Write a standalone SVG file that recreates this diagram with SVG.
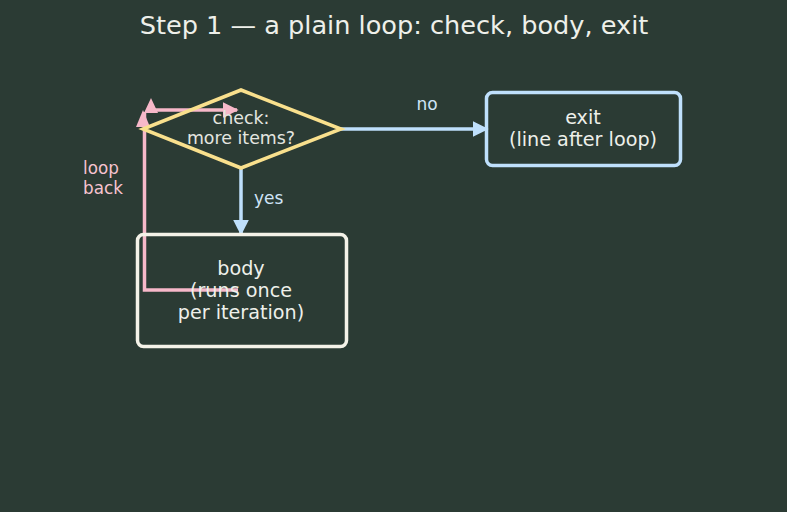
<svg xmlns="http://www.w3.org/2000/svg" width="787" height="512" viewBox="0 0 787 512">
<style>
text{font-family:"DejaVu Sans","Liberation Sans",sans-serif;}
.title{font-size:25.6px;fill:#eef0ea;text-anchor:middle;}
.lbl{font-size:19.2px;fill:#eef0ea;text-anchor:middle;}
.dlbl{font-size:17.4px;fill:#e4e6e0;text-anchor:middle;}
.elbl{font-size:17px;fill:#cfe4f7;}
.plbl{font-size:16.8px;fill:#f7c3d0;}
.blue{stroke:#bfe0fc;stroke-width:3.5;fill:none;}
.pink{stroke:#f7b8c9;stroke-width:3.5;fill:none;}
</style>
<defs>
<marker id="ab" viewBox="0 0 10 10" refX="9" refY="5" markerWidth="4.6" markerHeight="4.6" orient="auto" markerUnits="strokeWidth"><path d="M0,0 L10,5 L0,10 z" fill="#bfe0fc"/></marker>
<marker id="ap" viewBox="0 0 10 10" refX="9" refY="5" markerWidth="4.6" markerHeight="4.6" orient="auto" markerUnits="strokeWidth"><path d="M0,0 L10,5 L0,10 z" fill="#f7b8c9"/></marker>
</defs>
<rect width="787" height="512" fill="#2b3b34"/>
<text class="title" x="394" y="34">Step 1 — a plain loop: check, body, exit</text>
<g id="connectors">
<line class="blue" x1="341" y1="129" x2="487" y2="129" marker-end="url(#ab)"/>
<text class="elbl" x="427" y="110" text-anchor="middle">no</text>
<line class="blue" x1="241" y1="168" x2="241" y2="234" marker-end="url(#ab)"/>
<text class="elbl" x="254" y="204">yes</text>
<path class="pink" d="M238,290 L144.5,290 L144.5,112"/>
<path d="M136,127 L143,110 L150,127 z" fill="#f7b8c9"/>
<path class="pink" d="M151,111 L151,104"/>
<path d="M144,113 L151,98 L158,113 z" fill="#f7b8c9"/>
<path class="pink" d="M150,110 L237,110" marker-end="url(#ap)"/>
<text class="plbl" x="83" y="174">loop</text>
<text class="plbl" x="83" y="194">back</text>
</g>
<g id="check">
<polygon points="241,90 341,129 241,168 143,129" fill="none" stroke="#f9e08d" stroke-width="3.5" stroke-linejoin="miter"/>
<text class="dlbl" x="241" y="124">check:</text>
<text class="dlbl" x="241" y="144">more items?</text>
</g>
<g id="body">
<rect x="137.5" y="234.5" width="209" height="112" rx="6" fill="none" stroke="#f4f2e8" stroke-width="3.5"/>
<text class="lbl" x="241" y="275">body</text>
<text class="lbl" x="241" y="297">(runs once</text>
<text class="lbl" x="241" y="319">per iteration)</text>
</g>
<g id="exit">
<rect x="486.5" y="92.5" width="194" height="73" rx="6" fill="none" stroke="#bfe0fc" stroke-width="3.5"/>
<text class="lbl" x="583" y="124">exit</text>
<text class="lbl" x="583" y="146">(line after loop)</text>
</g>
</svg>
